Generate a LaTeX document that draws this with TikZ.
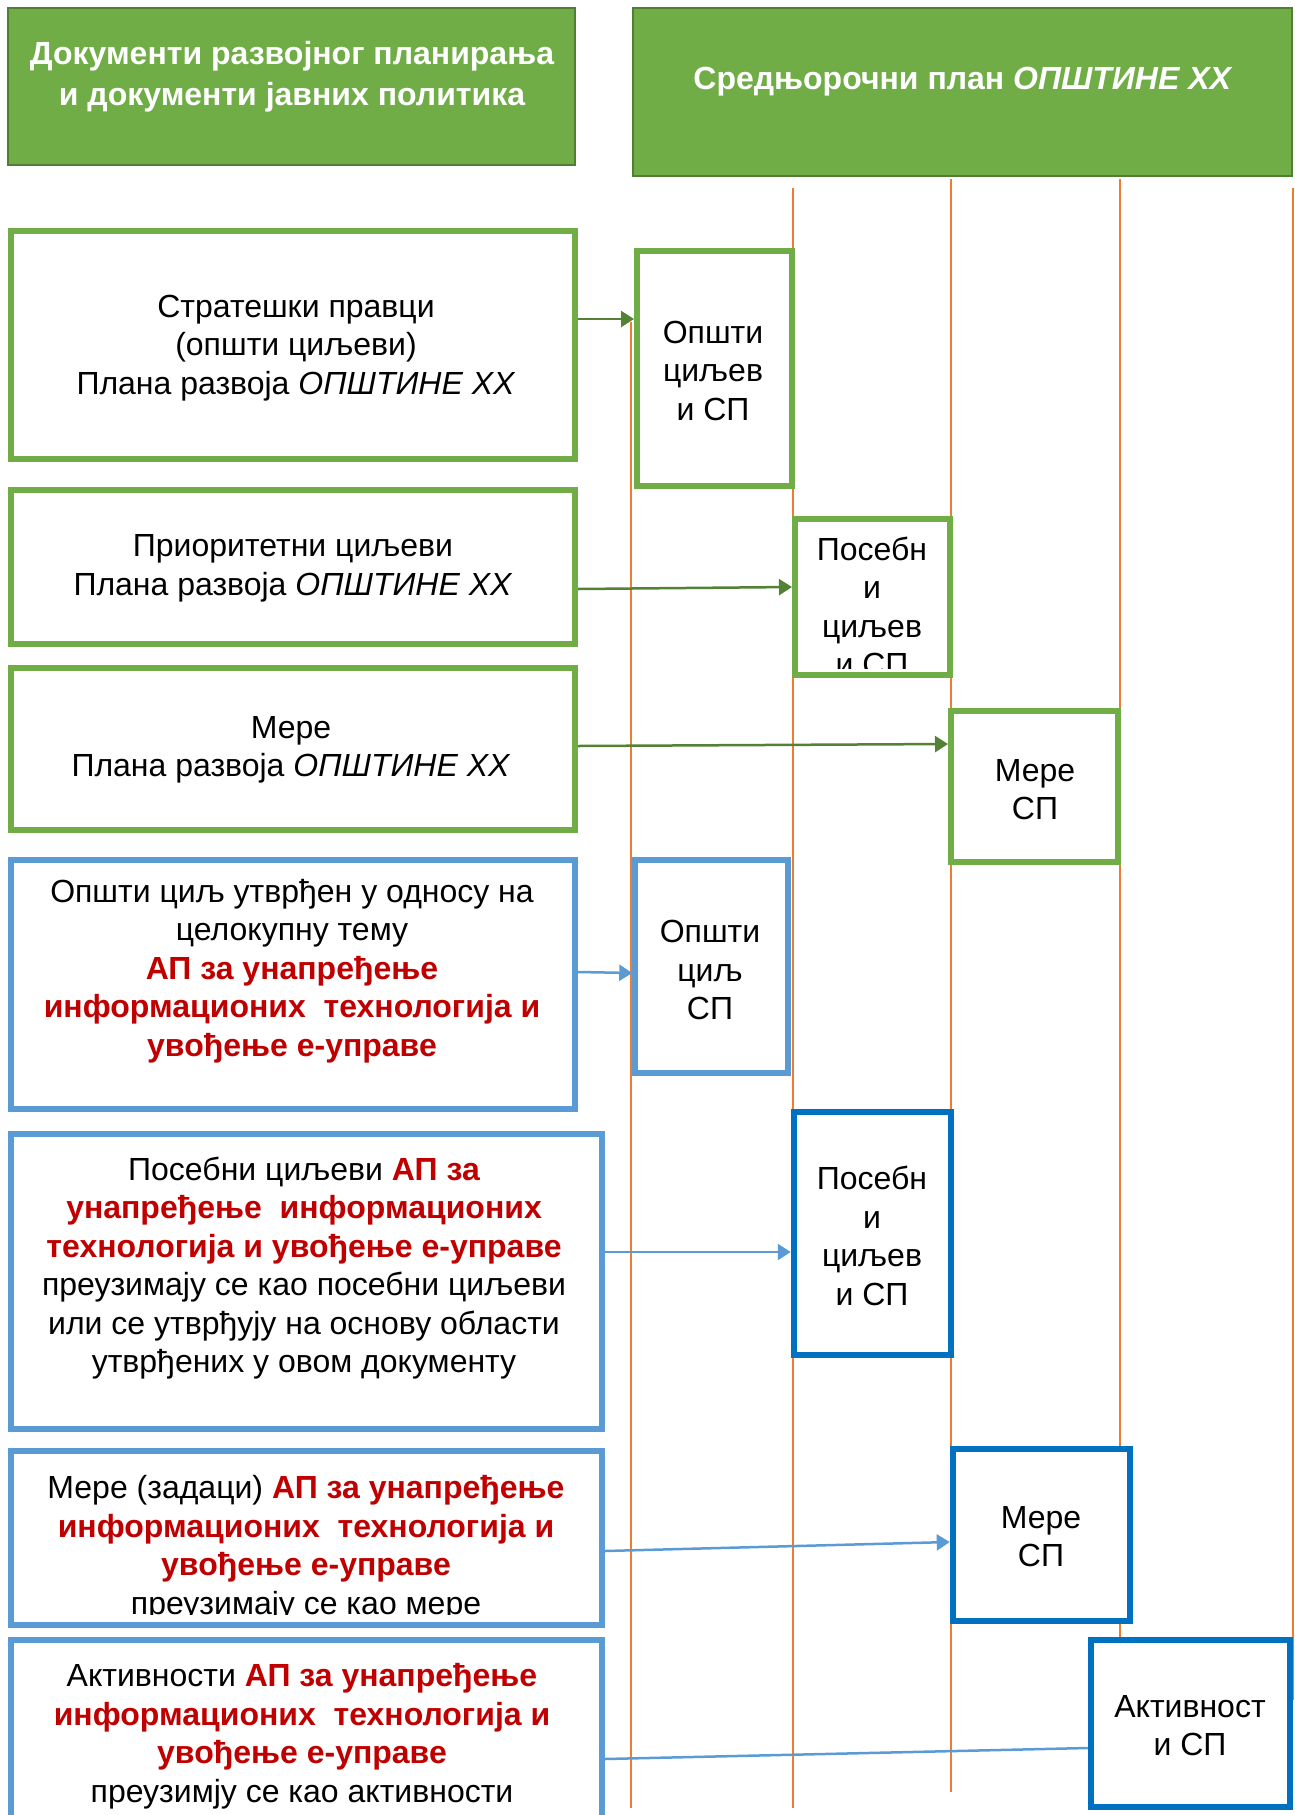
\documentclass[tikz,border=0pt]{standalone}
\usepackage{fontspec}
\setmainfont{Liberation Sans}
\usetikzlibrary{arrows.meta}
\definecolor{gfill}{HTML}{70AD47}
\definecolor{gdark}{HTML}{507E32}
\definecolor{garrow}{HTML}{548235}
\definecolor{lblue}{HTML}{5B9BD5}
\definecolor{dblue}{HTML}{0070C0}
\definecolor{cred}{HTML}{C00000}
\definecolor{corange}{HTML}{ED7D31}
\newcommand{\apred}[1]{{\bfseries\color{cred}#1}}
\tikzset{
  hdr/.style={draw=gdark, line width=2.5pt, fill=gfill, inner sep=0pt},
  gbox/.style={draw=gfill, line width=6pt, fill=white, inner sep=0pt},
  lbbox/.style={draw=lblue, line width=5.5pt, fill=white, inner sep=0pt},
  dbbox/.style={draw=dblue, line width=6.5pt, fill=white, inner sep=0pt},
  txt/.style={font=\fontsize{32}{38.5}\selectfont, align=center, inner sep=0pt},
  htxt/.style={font=\fontsize{32}{41}\selectfont\bfseries, text=white, align=center, inner sep=0pt},
  vline/.style={draw=corange, line width=1.3pt},
  garr/.style={draw=garrow, line width=2.5pt, -{Triangle[length=13pt,width=16pt]}},
  barr/.style={draw=lblue, line width=2.5pt, -{Triangle[length=13pt,width=16pt]}},
  bline/.style={draw=lblue, line width=2.5pt},
  sz/.style 2 args={minimum width=#1, minimum height=#2}
}
\begin{document}
\begin{tikzpicture}[x=1pt,y=-1pt]
\path[use as bounding box] (0,0) rectangle (1295,1815);

% orange guide lines
\coordinate (l1t) at (631,322);  \coordinate (l1b) at (631,1808);
\coordinate (l2t) at (793,188);  \coordinate (l2b) at (793,1808);
\coordinate (l3t) at (951,179);  \coordinate (l3b) at (951,1792);
\coordinate (l4t) at (1120,179); \coordinate (l4b) at (1120,1700);
\coordinate (l5t) at (1293,188); \coordinate (l5b) at (1293,1700);
\draw[vline] (l1t) -- (l1b);
\draw[vline] (l2t) -- (l2b);
\draw[vline] (l3t) -- (l3b);
\draw[vline] (l4t) -- (l4b);
\draw[vline] (l5t) -- (l5b);

% headers
\node[hdr, sz={567pt}{157pt}] (h1) at (291.5,86.5) {};
\node[hdr, sz={659pt}{168pt}] (h2) at (962.5,92) {};
\node[htxt] (h1t) at (292,77) {Документи развојног планирања\\и документи јавних политика};
\node[htxt] (h2t) at (963,82) {Средњорочни план \textit{ОПШТИНЕ ХХ}};

% left boxes
\node[gbox, sz={564pt}{228pt}] (b1) at (293,345) {};
\node[gbox, sz={564pt}{154pt}] (b2) at (293,567) {};
\node[gbox, sz={564pt}{162pt}] (b3) at (293,749) {};
\node[lbbox, sz={564pt}{249pt}] (b4) at (293,984.5) {};
\node[lbbox, sz={591pt}{295pt}] (b5) at (306.5,1281.5) {};
\node[lbbox, sz={591pt}{174pt}] (b6) at (306.5,1538) {};
\node[lbbox, sz={591pt}{200pt}] (b7) at (306.5,1740) {};

% right boxes
\node[gbox, sz={155pt}{235pt}] (ra) at (714.5,368.5) {};
\node[gbox, sz={155pt}{156pt}] (rb) at (872.5,597) {};
\node[gbox, sz={167pt}{151pt}] (rc) at (1034.5,786.5) {};
\node[lbbox, sz={153pt}{213pt}] (rd) at (711.5,966.5) {};
\node[dbbox, sz={157pt}{243pt}] (re) at (872.5,1233.5) {};
\node[dbbox, sz={177pt}{172pt}] (rf) at (1041.5,1535) {};
\node[dbbox, sz={199pt}{167pt}] (rg) at (1190.5,1723.5) {};

% texts of left boxes
\node[txt] (t1) at (296,348) {Стратешки правци\\(општи циљеви)\\Плана развоја \textit{ОПШТИНЕ ХХ}};
\node[txt] (t2) at (293,568.5) {Приоритетни циљеви\\Плана развоја \textit{ОПШТИНЕ ХХ}};
\node[txt] (t3) at (291,750) {Мере\\Плана развоја \textit{ОПШТИНЕ ХХ}};
\node[txt] (t4) at (292,971) {Општи циљ утврђен у односу на\\целокупну тему\\\apred{АП за унапређење}\\\apred{информационих~ технологија и}\\\apred{увођење е-управе}};
\node[txt] (t5) at (304,1268) {Посебни циљеви \apred{АП за}\\\apred{унапређење~ информационих}\\\apred{технологија и увођење е-управе}\\преузимају се као посебни циљеви\\или се утврђују на основу области\\утврђених у овом документу};
\begin{scope}
\clip (14,1454) rectangle (599,1614);
\node[txt] (t6) at (306,1548) {Мере (задаци) \apred{АП за унапређење}\\\apred{информационих~ технологија и}\\\apred{увођење е-управе}\\преузимају се као мере};
\end{scope}
\node[txt] (t7) at (302,1736) {Активности \apred{АП за унапређење}\\\apred{информационих~ технологија и}\\\apred{увођење е-управе}\\преузимју се као активности};

% texts of right boxes
\node[txt] (ta) at (713,370.5) {Општи\\циљев\\и СП};
\begin{scope}
\clip (798,522) rectangle (947,668);
\node[txt] (tb) at (872,606.5) {Посебн\\и\\циљев\\и СП};
\end{scope}
\node[txt] (tc) at (1035,789.5) {Мере\\СП};
\node[txt] (td) at (710,970) {Општи\\циљ\\СП};
\node[txt] (te) at (872,1236) {Посебн\\и\\циљев\\и СП};
\node[txt] (tf) at (1041,1536.5) {Мере\\СП};
\node[txt] (tg) at (1190,1725.5) {Активност\\и СП};

% connectors
\coordinate (y1) at (0,319);
\coordinate (y2s) at (0,589);  \coordinate (y2e) at (0,587);
\coordinate (y3s) at (0,746);  \coordinate (y3e) at (0,744);
\coordinate (y4s) at (0,972);  \coordinate (y4e) at (0,973);
\coordinate (y5) at (0,1252);
\coordinate (y6s) at (0,1551); \coordinate (y6e) at (0,1542);
\coordinate (y7s) at (0,1759); \coordinate (y7e) at (0,1748);
\draw[garr] (b1.east |- y1) -- (ra.west |- y1);
\draw[garr] (b2.east |- y2s) -- (rb.west |- y2e);
\draw[garr] (b3.east |- y3s) -- (rc.west |- y3e);
\draw[barr] (b4.east |- y4s) -- (rd.west |- y4e);
\draw[barr] (b5.east |- y5) -- (re.west |- y5);
\draw[barr] (b6.east |- y6s) -- (rf.west |- y6e);
\draw[bline] (b7.east |- y7s) -- (rg.west |- y7e);
\end{tikzpicture}
\end{document}
